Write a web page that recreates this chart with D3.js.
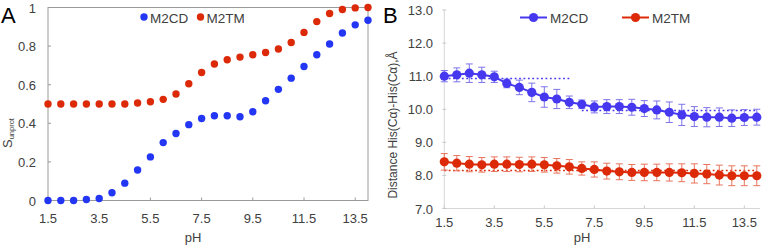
<!DOCTYPE html>
<html>
<head>
<meta charset="utf-8">
<script src="https://cdn.jsdelivr.net/npm/d3@7"></script>
<style>
  body { margin: 0; background: #fff; }
  svg { display: block; font-family: "Liberation Sans", Arial, sans-serif; }
</style>
</head>
<body>
<svg id="chart" width="763" height="245"></svg>
<script>
// pH values sampled in both panels
const phValues = [1.5, 2.0, 2.5, 3.0, 3.5, 4.0, 4.5, 5.0, 5.5, 6.0, 6.5, 7.0, 7.5,
                  8.0, 8.5, 9.0, 9.5, 10.0, 10.5, 11.0, 11.5, 12.0, 12.5, 13.0, 13.5, 14.0]
const xTicks = [1.5, 3.5, 5.5, 7.5, 9.5, 11.5, 13.5]

// panel A : unprotonated fraction
const m2cdUnprot = [0, 0, 0, 0.005, 0.01, 0.04, 0.09, 0.158, 0.226, 0.30, 0.347, 0.393, 0.425,
                    0.439, 0.439, 0.434, 0.46, 0.517, 0.576, 0.634, 0.694, 0.755, 0.811, 0.868, 0.91, 0.934]
const m2tmUnprot = [0.5, 0.5, 0.5, 0.5, 0.5, 0.5, 0.5, 0.505, 0.512, 0.524, 0.552, 0.605, 0.663,
                    0.707, 0.729, 0.743, 0.755, 0.767, 0.785, 0.819, 0.871, 0.927, 0.969, 0.99, 0.998, 1.0]
const yTicksA = [0, 0.2, 0.4, 0.6, 0.8, 1]

// panel B : His(Ca)-His(Ca) distance, with error bars
const m2cdDist = [11.0, 11.04, 11.09, 11.04, 10.98, 10.78, 10.66, 10.51, 10.37, 10.31, 10.21, 10.15, 10.07,
                  10.08, 10.08, 10.06, 10.02, 9.98, 9.91, 9.83, 9.78, 9.76, 9.76, 9.73, 9.75, 9.76]
const m2cdErr = [0.17, 0.21, 0.28, 0.23, 0.17, 0.13, 0.22, 0.28, 0.31, 0.29, 0.19, 0.13, 0.18,
                 0.21, 0.21, 0.24, 0.24, 0.27, 0.31, 0.32, 0.30, 0.29, 0.28, 0.25, 0.24, 0.24]
const m2tmDist = [8.41, 8.37, 8.34, 8.32, 8.34, 8.34, 8.33, 8.34, 8.32, 8.29, 8.26, 8.21, 8.18,
                  8.13, 8.11, 8.09, 8.09, 8.09, 8.09, 8.08, 8.06, 8.04, 8.01, 7.99, 7.99, 7.99]
const m2tmErr = [0.25, 0.23, 0.23, 0.22, 0.22, 0.22, 0.22, 0.22, 0.22, 0.22, 0.22, 0.2, 0.23,
                 0.24, 0.24, 0.24, 0.25, 0.25, 0.26, 0.27, 0.29, 0.29, 0.3, 0.3, 0.3, 0.3]
const yTicksB = [7, 8, 9, 10, 11, 12, 13]
// dotted plateau lines (pH from, pH to, distance)
const m2cdPlateaus = [[1.5, 6.5, 10.93], [7.0, 14.0, 9.96]]
const m2tmPlateaus = [[1.5, 14.0, 8.15]]

const blue = "#2236f4", red = "#dc2a08"
const blueB = "#4638ef", blueErr = "#7d74ea", redErr = "#e9735c"
const textCol = "#404040"

const svg = d3.select("#chart")

// ---------------- panel A ----------------
const xA = d3.scaleLinear().domain([1.5, 14]).range([48, 368])
const yA = d3.scaleLinear().domain([0, 1]).range([200.5, 7.5])
const gA = svg.append("g")

// frame
gA.append("rect")
  .attr("x", xA(1.5)).attr("y", yA(1))
  .attr("width", xA(14) - xA(1.5)).attr("height", yA(0) - yA(1))
  .attr("fill", "none").attr("stroke", "#9a9a9a").attr("stroke-width", 1)

gA.append("g").selectAll("line").data(xTicks).join("line")
  .attr("x1", d => xA(d)).attr("x2", d => xA(d))
  .attr("y1", yA(0)).attr("y2", yA(0) - 3)
  .attr("stroke", "#9a9a9a")
gA.append("g").selectAll("text").data(xTicks).join("text")
  .attr("x", d => xA(d)).attr("y", 223)
  .attr("text-anchor", "middle").attr("font-size", 13).attr("fill", textCol)
  .text(d => d3.format(".1f")(d))

gA.append("g").selectAll("line").data(yTicksA).join("line")
  .attr("x1", xA(1.5)).attr("x2", xA(1.5) + 3)
  .attr("y1", d => yA(d)).attr("y2", d => yA(d))
  .attr("stroke", "#9a9a9a")
gA.append("g").selectAll("text").data(yTicksA).join("text")
  .attr("x", 36).attr("y", d => yA(d) + 5)
  .attr("text-anchor", "end").attr("font-size", 13).attr("fill", textCol)
  .text(d => String(d))

gA.append("text").attr("x", 193).attr("y", 242)
  .attr("text-anchor", "middle").attr("font-size", 13).attr("fill", textCol).text("pH")

const labA = gA.append("text")
  .attr("transform", "translate(12,148) rotate(-90)")
  .attr("font-size", 13).attr("fill", textCol)
labA.append("tspan").text("S")
labA.append("tspan").attr("font-size", 7.5).attr("dy", 1.5).text("unprot")

gA.append("text").attr("x", 1).attr("y", 23).attr("font-size", 22).attr("fill", "#000").text("A")

gA.append("g").selectAll("circle").data(phValues).join("circle")
  .attr("cx", d => xA(d)).attr("cy", (d, i) => yA(m2tmUnprot[i])).attr("r", 3.7)
  .attr("fill", red)
gA.append("g").selectAll("circle").data(phValues).join("circle")
  .attr("cx", d => xA(d)).attr("cy", (d, i) => yA(m2cdUnprot[i])).attr("r", 3.7)
  .attr("fill", blue)

// legend A
const legA = [["M2CD", blue, 144], ["M2TM", red, 200.5]]
legA.forEach(([name, col, lx]) => {
  gA.append("circle").attr("cx", lx).attr("cy", 17).attr("r", 3.7).attr("fill", col)
  gA.append("text").attr("x", lx + 6).attr("y", 22.5)
    .attr("font-size", 13.5).attr("fill", textCol).text(name)
})

// ---------------- panel B ----------------
const xB = d3.scaleLinear().domain([1.5, 14]).range([444.3, 756.8])
const yB = d3.scaleLinear().domain([7, 13]).range([208.5, 10])
const gB = svg.append("g")

gB.append("line").attr("x1", xB(1.5)).attr("x2", xB(1.5))
  .attr("y1", yB(13)).attr("y2", yB(7)).attr("stroke", "#d6d6d6")
gB.append("line").attr("x1", xB(1.5)).attr("x2", 760)
  .attr("y1", yB(7)).attr("y2", yB(7)).attr("stroke", "#d6d6d6")

gB.append("g").selectAll("line").data(xTicks).join("line")
  .attr("x1", d => xB(d)).attr("x2", d => xB(d))
  .attr("y1", yB(7)).attr("y2", yB(7) - 3)
  .attr("stroke", "#c8c8c8")
gB.append("g").selectAll("text").data(xTicks).join("text")
  .attr("x", d => xB(d)).attr("y", 226.5)
  .attr("text-anchor", "middle").attr("font-size", 13).attr("fill", textCol)
  .text(d => d3.format(".1f")(d))

gB.append("g").selectAll("line").data(yTicksB).join("line")
  .attr("x1", xB(1.5) - 2).attr("x2", xB(1.5) + 2)
  .attr("y1", d => yB(d)).attr("y2", d => yB(d))
  .attr("stroke", "#c8c8c8")
gB.append("g").selectAll("text").data(yTicksB).join("text")
  .attr("x", 433).attr("y", d => yB(d) + 5)
  .attr("text-anchor", "end").attr("font-size", 13).attr("fill", textCol)
  .text(d => d3.format(".1f")(d))

gB.append("text").attr("x", 582).attr("y", 242)
  .attr("text-anchor", "middle").attr("font-size", 13).attr("fill", textCol).text("pH")

gB.append("text")
  .attr("transform", "translate(397,125) rotate(-90)")
  .attr("text-anchor", "middle").attr("font-size", 12).attr("fill", textCol)
  .text("Distance His(Cα)-His(Cα),Å")

gB.append("text").attr("x", 383).attr("y", 23).attr("font-size", 22).attr("fill", "#000").text("B")

function drawSeries(vals, errs, plateaus, col, errCol) {
  const g = gB.append("g")
  g.selectAll("line.plat").data(plateaus).join("line").attr("class", "plat")
    .attr("x1", d => xB(d[0])).attr("x2", d => xB(d[1]))
    .attr("y1", d => yB(d[2])).attr("y2", d => yB(d[2]))
    .attr("stroke", col).attr("stroke-width", 1.6).attr("stroke-dasharray", "1.8,2.6")
  const eb = g.append("g").attr("stroke", errCol).attr("stroke-width", 1)
  eb.selectAll("line.v").data(phValues).join("line").attr("class", "v")
    .attr("x1", d => xB(d)).attr("x2", d => xB(d))
    .attr("y1", (d, i) => yB(vals[i] + errs[i])).attr("y2", (d, i) => yB(vals[i] - errs[i]))
  eb.selectAll("line.t").data(phValues).join("line").attr("class", "t")
    .attr("x1", d => xB(d) - 3.5).attr("x2", d => xB(d) + 3.5)
    .attr("y1", (d, i) => yB(vals[i] + errs[i])).attr("y2", (d, i) => yB(vals[i] + errs[i]))
  eb.selectAll("line.b").data(phValues).join("line").attr("class", "b")
    .attr("x1", d => xB(d) - 3.5).attr("x2", d => xB(d) + 3.5)
    .attr("y1", (d, i) => yB(vals[i] - errs[i])).attr("y2", (d, i) => yB(vals[i] - errs[i]))
  const line = d3.line().x(d => xB(d)).y((d, i) => yB(vals[i]))
  g.append("path").datum(phValues).attr("d", line)
    .attr("fill", "none").attr("stroke", col).attr("stroke-width", 2)
  g.selectAll("circle").data(phValues).join("circle")
    .attr("cx", d => xB(d)).attr("cy", (d, i) => yB(vals[i])).attr("r", 4.6)
    .attr("fill", col)
}
drawSeries(m2tmDist, m2tmErr, m2tmPlateaus, red, redErr)
drawSeries(m2cdDist, m2cdErr, m2cdPlateaus, blueB, blueErr)

// legend B
const legB = [["M2CD", blueB, 520], ["M2TM", red, 622]]
legB.forEach(([name, col, lx]) => {
  gB.append("line").attr("x1", lx).attr("x2", lx + 27).attr("y1", 17.5).attr("y2", 17.5)
    .attr("stroke", col).attr("stroke-width", 2)
  gB.append("circle").attr("cx", lx + 13.5).attr("cy", 17.5).attr("r", 4.6).attr("fill", col)
  gB.append("text").attr("x", lx + 30).attr("y", 22.5)
    .attr("font-size", 13.5).attr("fill", textCol).text(name)
})
</script>
</body>
</html>
